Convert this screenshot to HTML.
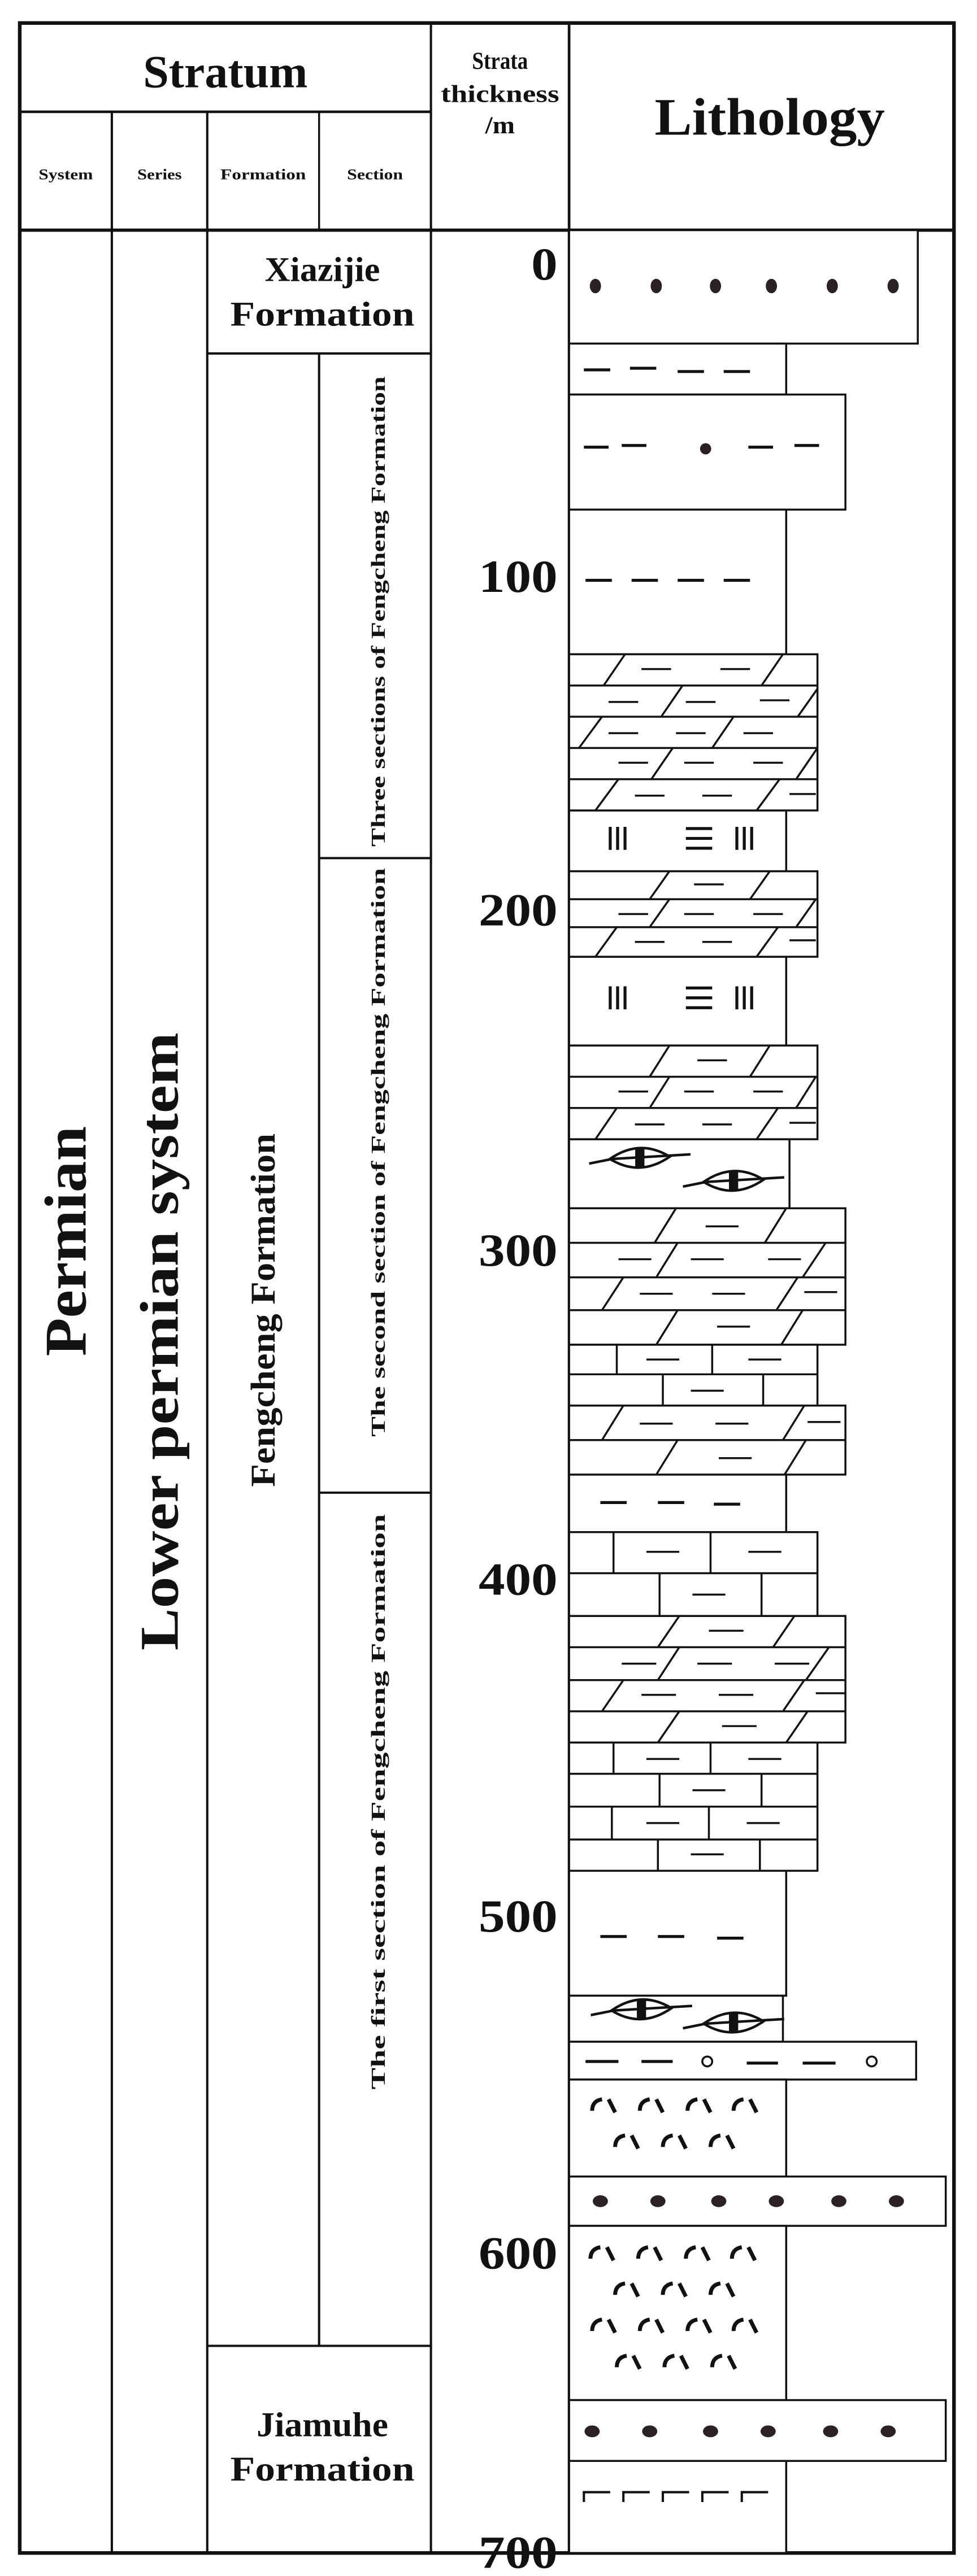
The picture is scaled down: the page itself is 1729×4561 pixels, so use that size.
<!DOCTYPE html>
<html><head><meta charset="utf-8"><style>
html,body{margin:0;padding:0;background:#fff;}
svg{display:block;}
text{font-family:"Liberation Serif",serif;font-weight:bold;fill:#111;}
</style></head><body>
<svg width="1729" height="4561" viewBox="0 0 594 1567" preserveAspectRatio="none" xmlns="http://www.w3.org/2000/svg">
<defs>
<g id="eye" stroke="#111" stroke-width="1.1" fill="none" transform="scale(1.4)">
<path d="M-22,2 L-12,0 L22,-2"/><path d="M-13,0 Q0,-9 13,-1 Q0,8 -13,0 Z"/><rect x="-2" y="-5" width="4" height="9" fill="#111" stroke="none"/>
</g>
<g id="tf" stroke="#111" stroke-width="2.4" fill="none"><path d="M0,7 Q0,1 6,0"/><path d="M10,0 L14,8"/></g>
<g id="tk" stroke="#111" stroke-width="1.4" fill="none"><path d="M0,6 L0,0 L16,0"/></g>
</defs>

<g stroke="#111" fill="none">
<rect x="12" y="14" width="568" height="1539" stroke-width="2.2"/>
<line x1="12" y1="68" x2="262" y2="68" stroke-width="1.6"/>
<line x1="12" y1="140" x2="580" y2="140" stroke-width="2"/>
<line x1="68" y1="68" x2="68" y2="1553" stroke-width="1.4"/>
<line x1="126" y1="68" x2="126" y2="1553" stroke-width="1.4"/>
<line x1="194" y1="68" x2="194" y2="140" stroke-width="1.2"/>
<line x1="194" y1="215" x2="194" y2="1427" stroke-width="1.4"/>
<line x1="262" y1="14" x2="262" y2="1553" stroke-width="1.4"/>
<line x1="346" y1="14" x2="346" y2="1553" stroke-width="1.6"/>
<line x1="126" y1="215" x2="262" y2="215" stroke-width="1.4"/>
<line x1="194" y1="522" x2="262" y2="522" stroke-width="1.4"/>
<line x1="194" y1="908" x2="262" y2="908" stroke-width="1.4"/>
<line x1="126" y1="1427" x2="262" y2="1427" stroke-width="1.4"/>
</g>

<text x="137" y="53" font-size="28" text-anchor="middle" textLength="100" lengthAdjust="spacingAndGlyphs">Stratum</text>
<text x="304" y="42" font-size="15" text-anchor="middle" textLength="34" lengthAdjust="spacingAndGlyphs">Strata</text>
<text x="304" y="62" font-size="15" text-anchor="middle" textLength="72" lengthAdjust="spacingAndGlyphs">thickness</text>
<text x="304" y="81" font-size="15" text-anchor="middle" textLength="18" lengthAdjust="spacingAndGlyphs">/m</text>
<text x="468" y="82" font-size="32" text-anchor="middle" textLength="140" lengthAdjust="spacingAndGlyphs">Lithology</text>
<text x="40" y="109" font-size="9" text-anchor="middle" textLength="33" lengthAdjust="spacingAndGlyphs">System</text>
<text x="97" y="109" font-size="9" text-anchor="middle" textLength="27" lengthAdjust="spacingAndGlyphs">Series</text>
<text x="160" y="109" font-size="9" text-anchor="middle" textLength="52" lengthAdjust="spacingAndGlyphs">Formation</text>
<text x="228" y="109" font-size="9" text-anchor="middle" textLength="34" lengthAdjust="spacingAndGlyphs">Section</text>

<text transform="translate(52,755) rotate(-90)" font-size="36" text-anchor="middle" textLength="140" lengthAdjust="spacingAndGlyphs">Permian</text>
<text transform="translate(108,816) rotate(-90)" font-size="33" text-anchor="middle" textLength="376" lengthAdjust="spacingAndGlyphs">Lower permian system</text>
<text transform="translate(167,797) rotate(-90)" font-size="21" text-anchor="middle" textLength="215" lengthAdjust="spacingAndGlyphs">Fengcheng Formation</text>
<text transform="translate(234,372) rotate(-90)" font-size="12" text-anchor="middle" textLength="286" lengthAdjust="spacingAndGlyphs">Three sections of Fengcheng Formation</text>
<text transform="translate(234,701) rotate(-90)" font-size="12" text-anchor="middle" textLength="346" lengthAdjust="spacingAndGlyphs">The second section of Fengcheng Formation</text>
<text transform="translate(234,1096) rotate(-90)" font-size="12" text-anchor="middle" textLength="350" lengthAdjust="spacingAndGlyphs">The first section of Fengcheng Formation</text>
<text x="196" y="171" font-size="21" text-anchor="middle" textLength="70" lengthAdjust="spacingAndGlyphs">Xiazijie</text>
<text x="196" y="198" font-size="21" text-anchor="middle" textLength="112" lengthAdjust="spacingAndGlyphs">Formation</text>
<text x="196" y="1482" font-size="21" text-anchor="middle" textLength="80" lengthAdjust="spacingAndGlyphs">Jiamuhe</text>
<text x="196" y="1509" font-size="21" text-anchor="middle" textLength="112" lengthAdjust="spacingAndGlyphs">Formation</text>

<g font-size="28" text-anchor="end">
<text x="339" y="170" textLength="16" lengthAdjust="spacingAndGlyphs">0</text>
<text x="339" y="360" textLength="48" lengthAdjust="spacingAndGlyphs">100</text>
<text x="339" y="563" textLength="48" lengthAdjust="spacingAndGlyphs">200</text>
<text x="339" y="770" textLength="48" lengthAdjust="spacingAndGlyphs">300</text>
<text x="339" y="970" textLength="48" lengthAdjust="spacingAndGlyphs">400</text>
<text x="339" y="1175" textLength="48" lengthAdjust="spacingAndGlyphs">500</text>
<text x="339" y="1380" textLength="48" lengthAdjust="spacingAndGlyphs">600</text>
<text x="339" y="1562" textLength="48" lengthAdjust="spacingAndGlyphs">700</text>
</g>

<g stroke="#111" stroke-width="1.2" fill="#fff">
<rect x="346" y="140" width="212" height="69"/>
<rect x="346" y="209" width="132" height="31"/>
<rect x="346" y="240" width="168" height="70"/>
<rect x="346" y="310" width="132" height="88"/>
<rect x="346" y="493" width="132" height="37"/>
<rect x="346" y="582" width="132" height="54"/>
<rect x="346" y="693" width="134" height="42"/>
<rect x="346" y="897" width="132" height="35"/>
<rect x="346" y="1138" width="132" height="76"/>
<rect x="346" y="1214" width="130" height="28"/>
<rect x="346" y="1242" width="211" height="23"/>
<rect x="346" y="1265" width="132" height="59"/>
<rect x="346" y="1324" width="229" height="30"/>
<rect x="346" y="1354" width="132" height="106"/>
<rect x="346" y="1460" width="229" height="37"/>
<rect x="346" y="1497" width="132" height="56"/>
</g>

<g fill="#2a2222">
<ellipse cx="362" cy="174" rx="3.4" ry="4.4"/><ellipse cx="399" cy="174" rx="3.4" ry="4.4"/><ellipse cx="435" cy="174" rx="3.4" ry="4.4"/><ellipse cx="469" cy="174" rx="3.4" ry="4.4"/><ellipse cx="506" cy="174" rx="3.4" ry="4.4"/><ellipse cx="543" cy="174" rx="3.4" ry="4.4"/>
<circle cx="429" cy="273" r="3.4"/>
<ellipse cx="365" cy="1339" rx="4.6" ry="3.6"/><ellipse cx="400" cy="1339" rx="4.6" ry="3.6"/><ellipse cx="437" cy="1339" rx="4.6" ry="3.6"/><ellipse cx="472" cy="1339" rx="4.6" ry="3.6"/><ellipse cx="510" cy="1339" rx="4.6" ry="3.6"/><ellipse cx="545" cy="1339" rx="4.6" ry="3.6"/>
<ellipse cx="360" cy="1479" rx="4.6" ry="3.6"/><ellipse cx="395" cy="1479" rx="4.6" ry="3.6"/><ellipse cx="432" cy="1479" rx="4.6" ry="3.6"/><ellipse cx="467" cy="1479" rx="4.6" ry="3.6"/><ellipse cx="505" cy="1479" rx="4.6" ry="3.6"/><ellipse cx="540" cy="1479" rx="4.6" ry="3.6"/>
</g>

<g stroke="#111" stroke-width="1.8">
<path d="M355,225h16M383,224h16M412,226h16M440,226h16"/>
<path d="M355,272h15M378,271h15M455,272h15M483,271h15"/>
<path d="M356,353h16M384,353h16M412,353h16M440,353h16"/>
<path d="M365,914h16M400,914h16M434,915h16"/>
<path d="M365,1178h16M400,1178h16M436,1179h16"/>
<path d="M356,1254h20M390,1254h19M454,1255h19M488,1255h20"/>
<path d="M371,503v14M375.5,503v14M380,503v14M448,503v14M452.5,503v14M457,503v14M417,504h16M417,510h16M417,516h16"/>
<path d="M371,600v14M375.5,600v14M380,600v14M448,600v14M452.5,600v14M457,600v14M417,601h16M417,607h16M417,613h16"/>
</g>
<g fill="#fff" stroke="#111" stroke-width="1.2"><circle cx="430" cy="1254" r="3"/><circle cx="530" cy="1254" r="3"/></g>

<use href="#eye" x="389" y="705"/>
<use href="#eye" x="446" y="719"/>
<use href="#eye" x="390" y="1223"/>
<use href="#eye" x="446" y="1231"/>

<use href="#tf" x="360" y="1277"/><use href="#tf" x="389" y="1277"/><use href="#tf" x="418" y="1277"/><use href="#tf" x="446" y="1277"/>
<use href="#tf" x="374" y="1299"/><use href="#tf" x="403" y="1299"/><use href="#tf" x="432" y="1299"/>
<use href="#tf" x="359" y="1367"/><use href="#tf" x="388" y="1367"/><use href="#tf" x="417" y="1367"/><use href="#tf" x="445" y="1367"/>
<use href="#tf" x="374" y="1389"/><use href="#tf" x="403" y="1389"/><use href="#tf" x="432" y="1389"/>
<use href="#tf" x="360" y="1411"/><use href="#tf" x="389" y="1411"/><use href="#tf" x="418" y="1411"/><use href="#tf" x="446" y="1411"/>
<use href="#tf" x="375" y="1433"/><use href="#tf" x="404" y="1433"/><use href="#tf" x="433" y="1433"/>

<use href="#tk" x="355" y="1516"/><use href="#tk" x="379" y="1516"/><use href="#tk" x="403" y="1516"/><use href="#tk" x="427" y="1516"/><use href="#tk" x="451" y="1516"/>

<g stroke="#111" stroke-width="1.2" fill="none">
<rect x="346" y="398" width="151" height="95" fill="#fff"/>
<path d="M346,417h151M346,436h151M346,455h151M346,474h151"/>
<path d="M367,417l13,-19M463,417l13,-19M402,436l13,-19M485,436l12,-17M352,455l14,-19M433,455l13,-19M396,474l13,-19M484,474l13,-19M362,493l14,-19M460,493l14,-19"/>
<path d="M390,407h18M438,407h18M370,427h18M417,427h18M462,426h18M370,446h18M411,446h18M452,446h18M376,464h18M416,464h18M458,464h18M386,484h18M427,484h18M480,483h16"/>
<rect x="346" y="530" width="151" height="52" fill="#fff"/>
<path d="M346,547h151M346,564h151"/>
<path d="M395,547l12,-17M456,547l12,-17M395,564l12,-17M484,564l12,-17M362,582l13,-18M460,582l13,-18"/>
<path d="M422,538h18M376,556h18M416,556h18M458,556h18M386,573h18M427,573h18M480,572h16"/>
<rect x="346" y="636" width="151" height="57" fill="#fff"/>
<path d="M346,655h151M346,674h151"/>
<path d="M395,655l12,-19M456,655l12,-19M395,674l12,-19M484,674l12,-19M362,693l13,-19M460,693l13,-19"/>
<path d="M424,645h18M376,664h18M416,664h18M458,664h18M386,684h18M427,684h18M480,683h16"/>
<rect x="346" y="735" width="168" height="83" fill="#fff"/>
<path d="M346,756h168M346,777h168M346,797h168"/>
<path d="M398,756l13,-21M465,756l13,-21M399,777l13,-21M488,777l14,-21M366,797l13,-20M472,797l13,-20M399,818l13,-21M475,818l13,-21"/>
<path d="M429,746h20M376,766h20M420,766h20M467,766h20M389,787h20M433,787h20M489,786h20M436,807h20"/>
<rect x="346" y="855" width="168" height="42" fill="#fff"/>
<path d="M346,876h168"/>
<path d="M366,876l13,-21M476,876l13,-21M399,897l13,-21M477,897l13,-21"/>
<path d="M389,866h20M435,866h20M491,865h20M437,887h20"/>
<rect x="346" y="983" width="168" height="77" fill="#fff"/>
<path d="M346,1002h168M346,1022h168M346,1041h168"/>
<path d="M400,1002l13,-19M470,1002l13,-19M400,1022l13,-20M490,1022l14,-20M366,1041l13,-19M476,1041l13,-19M400,1060l13,-19M478,1060l13,-19"/>
<path d="M431,992h21M378,1012h21M424,1012h21M471,1012h21M390,1031h21M437,1031h21M496,1030h18M439,1050h21"/>
</g>

<g stroke="#111" stroke-width="1.2" fill="none">
<rect x="346" y="818" width="151" height="37" fill="#fff"/>
<path d="M346,836h151M375,818v18M433,818v18M403,836v19M464,836v19"/>
<path d="M393,827h20M455,827h20M420,846h20"/>
<rect x="346" y="932" width="151" height="51" fill="#fff"/>
<path d="M346,957h151M373,932v25M432,932v25M401,957v26M463,957v26"/>
<path d="M393,944h20M455,944h20M421,970h20"/>
<rect x="346" y="1060" width="151" height="78" fill="#fff"/>
<path d="M346,1079h151M346,1099h151M346,1119h151"/>
<path d="M373,1060v19M432,1060v19M401,1079v20M463,1079v20M372,1099v20M431,1099v20M400,1119v19M462,1119v19"/>
<path d="M393,1070h20M455,1070h20M421,1089h20M393,1109h20M454,1109h20M420,1128h20"/>
</g>
</svg>
</body></html>
